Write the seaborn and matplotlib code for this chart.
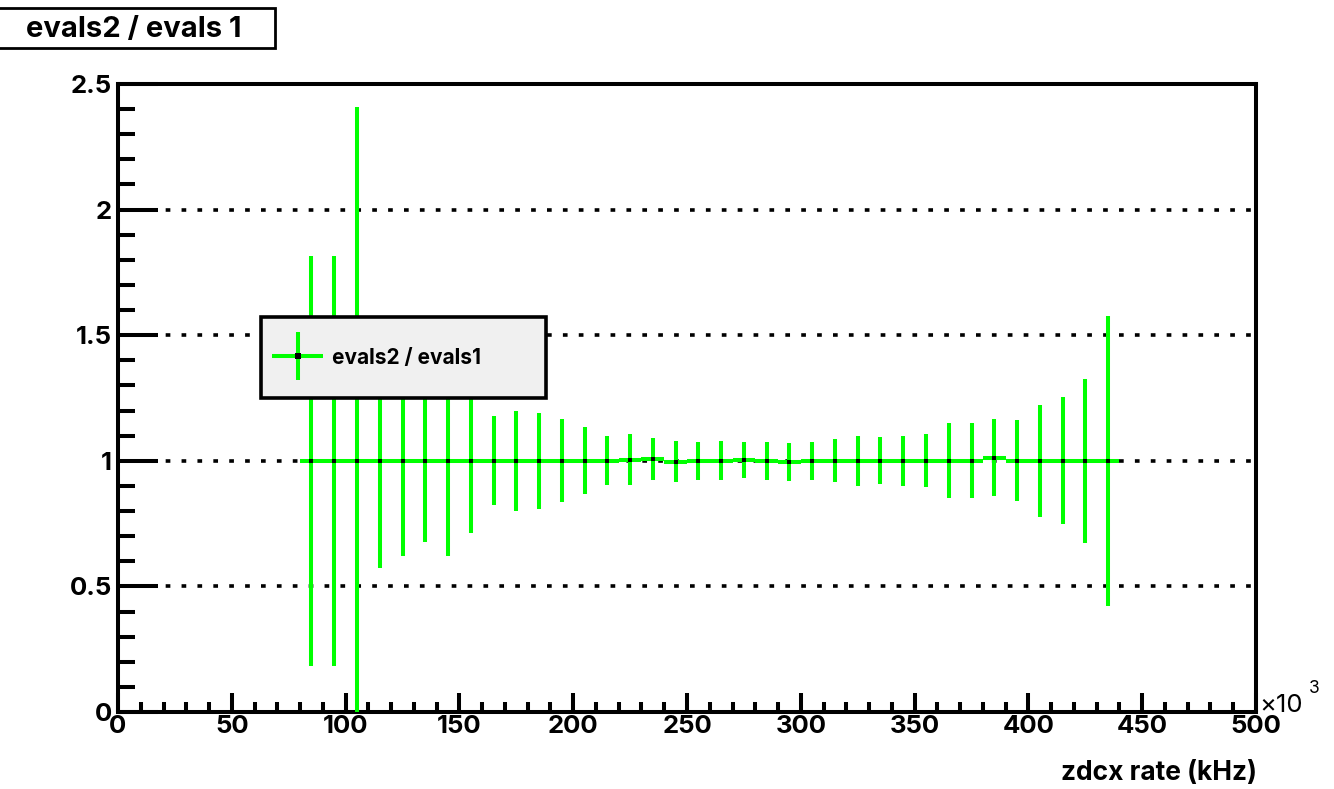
import matplotlib
matplotlib.use("Agg")
import matplotlib.pyplot as plt
from matplotlib.patches import Rectangle
from matplotlib.lines import Line2D
from matplotlib.container import ErrorbarContainer
from matplotlib.legend_handler import HandlerErrorbar, HandlerTuple
from matplotlib.ticker import MultipleLocator
import pandas as pd
import seaborn as sns

# zdcx rate bin centres (x10^3 kHz); each bin is 10 wide
rate_bins = [85, 95, 105, 115, 125, 135, 145, 155, 165, 175, 185, 195,
             205, 215, 225, 235, 245, 255, 265, 275, 285, 295, 305, 315,
             325, 335, 345, 355, 365, 375, 385, 395, 405, 415, 425, 435]
ratio = [1.0, 1.0, 1.0, 1.0, 1.0, 1.0, 1.0, 1.0, 1.0, 1.0, 1.0, 1.0,
         1.0, 1.0, 1.005, 1.007, 0.997, 1.0, 1.0, 1.003, 1.0, 0.996, 1.0, 1.0,
         1.0, 1.0, 1.0, 1.0, 1.0, 1.0, 1.012, 1.0, 1.0, 1.0, 1.0, 1.0]
ratio_err = [0.815, 0.815, 1.41, 0.425, 0.378, 0.324, 0.378, 0.288, 0.177, 0.200, 0.190, 0.166,
             0.134, 0.097, 0.102, 0.084, 0.081, 0.076, 0.078, 0.073, 0.076, 0.076, 0.076, 0.086,
             0.100, 0.093, 0.100, 0.106, 0.150, 0.150, 0.153, 0.161, 0.222, 0.252, 0.326, 0.578]
bin_half_width = 5

x_ticks = [0, 50, 100, 150, 200, 250, 300, 350, 400, 450, 500]
x_tick_labels = ["0", "50", "100", "150", "200", "250", "300", "350", "400", "450", "500"]
y_ticks = [0, 0.5, 1, 1.5, 2, 2.5]
y_tick_labels = ["0", "0.5", "1", "1.5", "2", "2.5"]

title_text = "evals2 / evals 1"
legend_text = "evals2 / evals1"
x_label = "zdcx rate (kHz)"

GREEN = "#00ff00"
FONT = ["Inter", "DejaVu Sans"]

sns.set_theme(style="ticks")
plt.rcParams["font.family"] = FONT
plt.rcParams.update({
    "text.color": "black",
    "axes.labelcolor": "black",
    "xtick.color": "black",
    "ytick.color": "black",
    "axes.edgecolor": "black",
    "axes.linewidth": 2.9,
})

W, H = 1334, 789
fig = plt.figure(figsize=(W / 100, H / 100), dpi=100)
fig.patch.set_facecolor("white")
ax = fig.add_axes([118 / W, 1 - 712 / H, (1256 - 118) / W, (712 - 84) / H])
ax.set_facecolor("white")

df = pd.DataFrame({"rate": rate_bins, "ratio": ratio, "err": ratio_err})

# error bars: horizontal = bin width, vertical = statistical error
eb = ax.errorbar(df["rate"], df["ratio"], xerr=bin_half_width, yerr=df["err"],
                 fmt="none", ecolor=GREEN, elinewidth=2.9, capsize=0, zorder=3)
sns.scatterplot(data=df, x="rate", y="ratio", marker="s", color="black", s=10,
                linewidth=0, ax=ax, zorder=4, legend=False)

ax.set_xlim(0, 500)
ax.set_ylim(0, 2.5)
ax.set_xticks(x_ticks)
ax.set_xticklabels(x_tick_labels, fontsize=18.5, fontweight="bold")
ax.set_yticks(y_ticks)
ax.set_yticklabels(y_tick_labels, fontsize=18.5, fontweight="bold")
ax.xaxis.set_minor_locator(MultipleLocator(10))
ax.yaxis.set_minor_locator(MultipleLocator(0.1))
ax.tick_params(axis="x", which="major", direction="in", length=13.7, width=2.9, pad=2.5, top=False)
ax.tick_params(axis="x", which="minor", direction="in", length=7.2, width=2.9, top=False)
ax.tick_params(axis="y", which="major", direction="in", length=29, width=2.9, pad=4.5, right=False)
ax.tick_params(axis="y", which="minor", direction="in", length=12.2, width=2.9, right=False)
for sp in ax.spines.values():
    sp.set_visible(True)
    sp.set_linewidth(2.9)
    sp.set_color("black")

ax.grid(axis="y", which="major", color="black", linewidth=2.6,
        linestyle=(0, (1.3, 3.1)))
ax.grid(axis="x", visible=False)
ax.set_axisbelow(True)

ax.set_ylabel("")
ax.set_xlabel(x_label, fontsize=19, fontweight="bold", ha="right", va="baseline")
ax.xaxis.set_label_coords((1257 - 118) / (1256 - 118), (712 - 780) / (712 - 84))

# exponent of the x axis
fig.text(1259 / W, 1 - 712 / H, "\u00d710", fontsize=18.5, fontweight="normal", va="baseline")
fig.text(1309 / W, 1 - 693 / H, "3", fontsize=12.5, fontweight="normal", va="baseline")

# legend: a narrow handle box whose error-bar cross reaches past its edges
marker_proxy = Line2D([], [], marker="s", color="black", linestyle="none",
                      markersize=3.8, markeredgewidth=0)
leg = ax.legend([(eb, marker_proxy)], [legend_text],
                handler_map={tuple: HandlerTuple(ndivide=1),
                             ErrorbarContainer: HandlerErrorbar(xerr_size=1.22, yerr_size=1.15)},
                loc="upper left",
                bbox_to_anchor=(261 / W, 1 - 397 / H, (546 - 261) / W, 80 / H),
                bbox_transform=fig.transFigure, mode="expand", borderaxespad=0,
                borderpad=1.47, handlelength=0.57, handleheight=0.7, handletextpad=1.37,
                fancybox=False, framealpha=1, facecolor="#f0f0f0", edgecolor="black",
                prop={"family": FONT, "weight": "bold", "size": 15})
leg.get_frame().set_linewidth(2.6)
leg.set_zorder(10)

# title box
fig.patches.append(Rectangle((-5 / W, 1 - 48 / H), 280 / W, 40 / H,
                             transform=fig.transFigure, facecolor="white",
                             edgecolor="black", linewidth=2.0))
fig.text(134 / W, 1 - 37 / H, title_text, ha="center", va="baseline",
         fontsize=21, fontweight="bold")

fig.savefig("out.png", dpi=100, facecolor="white")
